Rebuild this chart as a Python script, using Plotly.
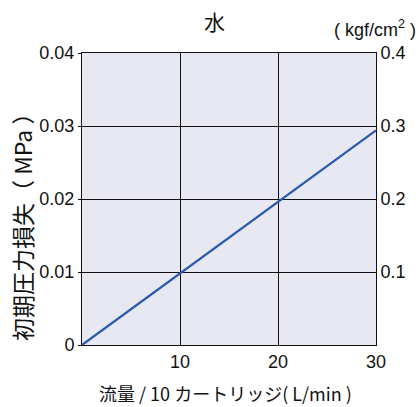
import plotly.graph_objects as go

flow = [0, 30]
loss_mpa = [0, 0.0294]
left_ticks = [0, 0.01, 0.02, 0.03, 0.04]
left_labels = ["0", "0.01", "0.02", "0.03", "0.04"]
right_ticks = [0.1, 0.2, 0.3, 0.4]
right_labels = ["0.1", "0.2", "0.3", "0.4"]
x_ticks = [10, 20, 30]

FONT = "Liberation Sans, Noto Sans CJK JP, sans-serif"
CJK = "Noto Sans CJK JP, Liberation Sans, sans-serif"

fig = go.Figure()
fig.add_trace(go.Scatter(x=flow, y=loss_mpa, mode="lines",
                         line=dict(color="#2a5cab", width=2.3), showlegend=False))
fig.add_trace(go.Scatter(x=[0], y=[0], yaxis="y2", mode="markers",
                         marker=dict(opacity=0), showlegend=False, hoverinfo="skip"))

fig.update_layout(
    width=420, height=407,
    margin=dict(l=82, r=44, t=53, b=62, autoexpand=False),
    paper_bgcolor="white", plot_bgcolor="#e8e8f3",
    font=dict(family=FONT, size=18, color="#111"),
    xaxis=dict(range=[0, 30], tickvals=x_ticks, showgrid=True, gridcolor="#111", gridwidth=1,
               showline=True, linecolor="#111", linewidth=1, mirror=True, ticks="",
               zeroline=False, tickfont=dict(size=18), automargin=False),
    yaxis=dict(range=[0, 0.04], tickvals=left_ticks, ticktext=left_labels, showgrid=True,
               gridcolor="#111", gridwidth=1, showline=True, linecolor="#111", linewidth=1,
               ticks="outside", ticklen=3, tickcolor="#111", zeroline=False,
               tickfont=dict(size=18), automargin=False),
    yaxis2=dict(range=[0, 0.4], tickvals=right_ticks, ticktext=right_labels, overlaying="y",
                side="right", showgrid=False, showline=True, linecolor="#111", linewidth=1,
                ticks="inside", ticklen=6, tickcolor="#111", zeroline=False,
                tickfont=dict(size=18), automargin=False),
    annotations=[
        dict(text="水", xref="paper", yref="paper", x=0.452, y=(345 - 21) / 292,
             xanchor="center", yanchor="middle", showarrow=False,
             font=dict(size=21, family=CJK)),
        dict(text="( kgf/cm<sup>2</sup> )", xref="paper", yref="paper",
             x=(418 - 82) / 294, y=(345 - 42) / 292, xanchor="right", yanchor="bottom",
             showarrow=False, font=dict(size=18)),
        dict(text="流量 / 10 カートリッジ( L/min )", xref="paper", yref="paper",
             x=(225 - 82) / 294, y=(345 - 393) / 292, xanchor="center", yanchor="middle",
             showarrow=False, font=dict(size=18, family=CJK)),
        dict(text="初期圧力損失（ MPa ）", xref="paper", yref="paper",
             x=(22 - 82) / 294, y=(345 - 222) / 292, xanchor="center", yanchor="middle",
             textangle=-90, showarrow=False, font=dict(size=23, family=CJK)),
    ],
)

fig.write_html("out.html", config={"displayModeBar": False},
               post_script="document.body.style.margin='0';document.body.style.overflow='hidden';")
